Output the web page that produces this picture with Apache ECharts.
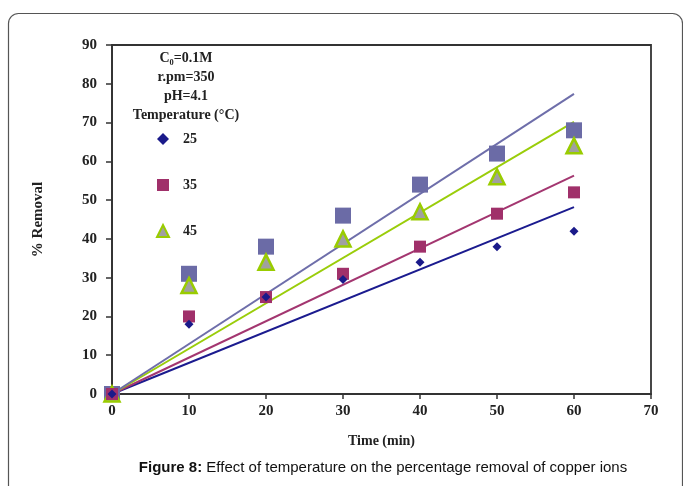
<!DOCTYPE html>
<html><head><meta charset="utf-8">
<script src="https://cdn.jsdelivr.net/npm/echarts@6/dist/echarts.min.js"></script>
<style>html,body{margin:0;padding:0;background:#fff}#c{width:683px;height:486px}</style>
</head><body><div id="c"></div>
<script>
var time = [0, 10, 20, 30, 40, 50, 60];
var t25 = [0, 18, 25, 29.5, 34, 38, 42];
var t35 = [0, 20, 25, 31, 38, 46.5, 52];
var t45 = [0, 28, 34, 40, 47, 56, 64];
var tX  = [0, 31, 38, 46, 54, 62, 68];
var fitX = [0, 60];
var fit25 = [0, 48.2];
var fit35 = [0, 56.3];
var fit45 = [0, 70.2];
var fitXs = [0, 77.4];
var legendNames = ['25', '35', '45'];
var headerLines = ['C\u2080=0.1M', 'r.pm=350', 'pH=4.1', 'Temperature (\u00b0C)'];

function pts(xs, ys){ return xs.map(function(x,i){ return [x, ys[i]]; }); }
var serif = 'Liberation Serif';
var chart = echarts.init(document.getElementById('c'), null, {renderer:'canvas'});

function lineS(name, ys, color){
  return {name:name, type:'line', data:pts(fitX, ys), showSymbol:false, symbol:'none',
    lineStyle:{color:color, width:2}, silent:true, z:2};
}
var opt = {
  animation:false,
  backgroundColor:'#fff',
  grid:{left:112, right:32, top:45, bottom:92, show:true, borderColor:'#333', borderWidth:1.8},
  legend:{data:legendNames, orient:'vertical', left:151, top:127, itemGap:32, itemWidth:12, itemHeight:12,
    textStyle:{fontFamily:serif, fontWeight:'bold', fontSize:14, color:'#222', padding:[0,0,0,9]}},
  xAxis:{type:'value', min:0, max:70, interval:10,
    name:'Time (min)', nameLocation:'middle', nameGap:40,
    nameTextStyle:{fontFamily:serif, fontWeight:'bold', fontSize:14, color:'#222'},
    axisLine:{lineStyle:{color:'#333', width:1.8}}, axisTick:{show:true, length:5, lineStyle:{color:'#333', width:1.5}},
    splitLine:{show:false},
    axisLabel:{fontFamily:serif, fontWeight:'bold', fontSize:15, color:'#222', margin:10}},
  yAxis:{type:'value', min:0, max:90, interval:10,
    name:'% Removal', nameLocation:'middle', nameGap:66,
    nameTextStyle:{fontFamily:serif, fontWeight:'bold', fontSize:15, color:'#222'},
    axisLine:{lineStyle:{color:'#333', width:1.8}}, axisTick:{show:true, length:6, lineStyle:{color:'#333', width:1.5}},
    splitLine:{show:false},
    axisLabel:{fontFamily:serif, fontWeight:'bold', fontSize:15, color:'#222', margin:15}},
  series:[
    lineS('fit25', fit25, '#1b1b8f'),
    lineS('fit35', fit35, '#a33670'),
    lineS('fit45', fit45, '#9acd0a'),
    lineS('fitX', fitXs, '#6e6eaa'),
    {name:'S4', type:'scatter', data:pts(time, tX), symbol:'rect', symbolSize:16,
      itemStyle:{color:'#6b6ba6', opacity:1}, z:3},
    {name:'45', type:'scatter', data:pts(time, t45), symbol:'triangle', symbolSize:15,
      itemStyle:{color:'#a0a0a0', borderColor:'#99cc00', borderWidth:2.5, opacity:1}, z:4},
    {name:'35', type:'scatter', data:pts(time, t35), symbol:'rect', symbolSize:12,
      itemStyle:{color:'#a0306a', opacity:1}, z:5},
    {name:'25', type:'scatter', data:pts(time, t25), symbol:'diamond', symbolSize:9,
      itemStyle:{color:'#1a1a8a', opacity:1}, z:6}
  ],
  graphic:[
    {type:'rect', shape:{x:8.5, y:13.5, width:674, height:520, r:10},
      style:{fill:null, stroke:'#555', lineWidth:1.2}, z:-1, silent:true}
  ]
};
var hy = [58, 77, 96, 115];
headerLines.forEach(function(t,i){
  opt.graphic.push({type:'text', x:186, y:hy[i], style:{text:t, fontFamily:serif, fontWeight:'bold', fontSize:14,
    fill:'#222', textAlign:'center', textVerticalAlign:'middle'}});
});
opt.graphic.push({type:'text', x:383, y:468, style:{
  rich:{b:{fontFamily:'Liberation Sans', fontWeight:'bold', fontSize:15, fill:'#111'},
        n:{fontFamily:'Liberation Sans', fontSize:15, fill:'#111'}},
  text:'{b|Figure 8:}{n| Effect of temperature on the percentage removal of copper ions}',
  textAlign:'center', textVerticalAlign:'middle'}});
chart.setOption(opt);
</script></body></html>
